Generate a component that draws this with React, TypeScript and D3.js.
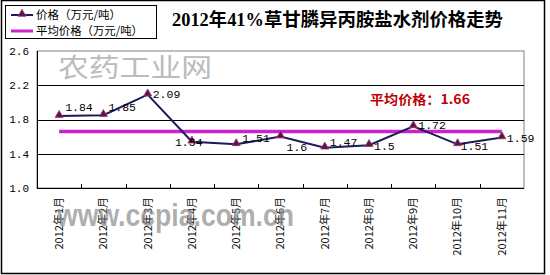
import React from "react";
import * as d3 from "d3";

const categories = ["2012年1月","2012年2月","2012年3月","2012年4月","2012年5月","2012年6月","2012年7月","2012年8月","2012年9月","2012年10月","2012年11月"];
const prices = [1.84, 1.85, 2.09, 1.54, 1.51, 1.6, 1.47, 1.5, 1.72, 1.51, 1.59];
const priceLabels = ["1.84","1.85","2.09","1.54","1.51","1.6","1.47","1.5","1.72","1.51","1.59"];
const averagePrice = 1.66;
const yTicks = [1.0, 1.4, 1.8, 2.2, 2.6];
const title = "2012年41%草甘膦异丙胺盐水剂价格走势";
const legendNames = ["价格（万元/吨）", "平均价格（万元/吨）"];
const averageLabel = "平均价格：1.66";

// label placement offsets (layout, not data)
const labelOffsets: [number, number][] = [[6,-9],[5,-8],[5,-1],[-17,0],[6,-6],[6,10],[5,-6],[5,1],[5,-1],[3,2],[5,0]];

const W = 550, H = 275;
const plot = { left: 37, right: 524, top: 51, bottom: 188 };

export default function App() {
  const x = d3.scaleBand<string>().domain(categories).range([plot.left, plot.right]).padding(0);
  const y = d3.scaleLinear().domain([1.0, 2.6]).range([plot.bottom, plot.top]);
  const cx = (i: number) => (x(categories[i]) as number) + x.bandwidth() / 2;
  const line = d3.line<number>().x((_, i) => cx(i)).y((d) => y(d));
  const tri = d3.symbol().type(d3.symbolTriangle).size(28);
  const mono = "'Liberation Mono', 'DejaVu Sans Mono', monospace";
  const cjk = "'Noto Sans CJK SC', 'DejaVu Sans', sans-serif";
  const lineColor = "#1c1a5e";
  const avgColor = "#cc22cc";
  const markerFill = "#5a1545";
  const markerStroke = "#a03a78";

  return (
    <svg width={W} height={H} style={{ position: "fixed", left: 0, top: 0, background: "#fff" }}>
      <rect x={0} y={0} width={W} height={H} fill="#fff" />
      <rect x={1.5} y={0.5} width={543} height={273} fill="none" stroke="#000" strokeWidth={1.5} />

      {/* watermark top */}
      <text x={58} y={77} fontFamily={cjk} fontSize={26} fill="#bcbcbc" textLength={154} lengthAdjust="spacingAndGlyphs">农药工业网</text>

      {/* plot border */}
      <rect x={plot.left} y={plot.top} width={plot.right - plot.left} height={plot.bottom - plot.top} fill="none" stroke="#808080" strokeWidth={1} />
      {yTicks.filter((t) => t > 1.0 && t < 2.6).map((t) => (
        <line key={t} x1={plot.left} x2={plot.right} y1={Math.round(y(t)) + 0.5} y2={Math.round(y(t)) + 0.5} stroke="#000" strokeWidth={1} />
      ))}
      <line x1={plot.left + 0.5} x2={plot.left + 0.5} y1={plot.top} y2={plot.bottom} stroke="#000" />
      <line x1={plot.left} x2={plot.right} y1={plot.bottom + 0.5} y2={plot.bottom + 0.5} stroke="#000" />
      {categories.slice(1).map((c) => (
        <line key={c} x1={Math.round(x(c) as number) + 0.5} x2={Math.round(x(c) as number) + 0.5} y1={plot.bottom - 4} y2={plot.bottom} stroke="#000" />
      ))}

      {/* y tick labels */}
      {yTicks.map((t) => (
        <text key={t} x={29} y={y(t)} dy="0.35em" textAnchor="end" fontFamily={mono} fontSize={11} fill="#000">{t.toFixed(1)}</text>
      ))}

      {/* x labels */}
      {categories.map((c, i) => (
        <text key={c} transform={`translate(${cx(i)},197) rotate(-90)`} textAnchor="end" dy="0.35em" fontFamily={cjk} fontSize={11} fill="#111">{c}</text>
      ))}

      {/* average line */}
      <line x1={cx(0)} x2={cx(categories.length - 1)} y1={y(averagePrice)} y2={y(averagePrice)} stroke={avgColor} strokeWidth={3.5} />

      {/* price line */}
      <path d={line(prices) as string} fill="none" stroke={lineColor} strokeWidth={2} />
      {prices.map((p, i) => (
        <path key={i} d={tri() as string} transform={`translate(${cx(i)},${y(p) - 1})`} fill={markerFill} stroke={markerStroke} strokeWidth={0.8} />
      ))}
      {prices.map((p, i) => (
        <text key={i} x={cx(i) + labelOffsets[i][0]} y={y(p) + labelOffsets[i][1]} dy="0.35em" fontFamily={mono} fontSize={11.5} fill="#000">{priceLabels[i]}</text>
      ))}

      {/* average label */}
      <text x={370} y={99} dy="0.35em" fontFamily={cjk} fontWeight="bold" fontSize={13} fill="#c00000" textLength={100} lengthAdjust="spacingAndGlyphs">{averageLabel}</text>

      {/* watermark bottom */}
      <text x={57} y={226} fontFamily="'Liberation Sans', Arial, sans-serif" fontWeight="bold" fontSize={31} fill="#8a8a8a" fillOpacity={0.7} textLength={237} lengthAdjust="spacingAndGlyphs">www.ccpia.com.cn</text>

      {/* title */}
      <text x={172} y={20} dy="0.35em" fontFamily="'Liberation Serif', 'Noto Sans CJK SC', serif" fontWeight="bold" fontSize={18} fill="#000" textLength={331} lengthAdjust="spacingAndGlyphs">{title}</text>

      {/* legend */}
      <rect x={5.5} y={5.5} width={151} height={33} fill="#fff" stroke="#000" strokeWidth={1} />
      <line x1={11} x2={33} y1={15} y2={15} stroke={lineColor} strokeWidth={2} />
      <path d={tri() as string} transform="translate(22,14)" fill={markerFill} stroke={markerStroke} strokeWidth={0.8} />
      <text x={36} y={15} dy="0.35em" fontFamily={cjk} fontSize={11.5} fill="#000" textLength={85} lengthAdjust="spacingAndGlyphs">{legendNames[0]}</text>
      <line x1={11} x2={33} y1={31} y2={31} stroke={avgColor} strokeWidth={3} />
      <text x={36} y={31} dy="0.35em" fontFamily={cjk} fontSize={11.5} fill="#000" textLength={107} lengthAdjust="spacingAndGlyphs">{legendNames[1]}</text>
    </svg>
  );
}
